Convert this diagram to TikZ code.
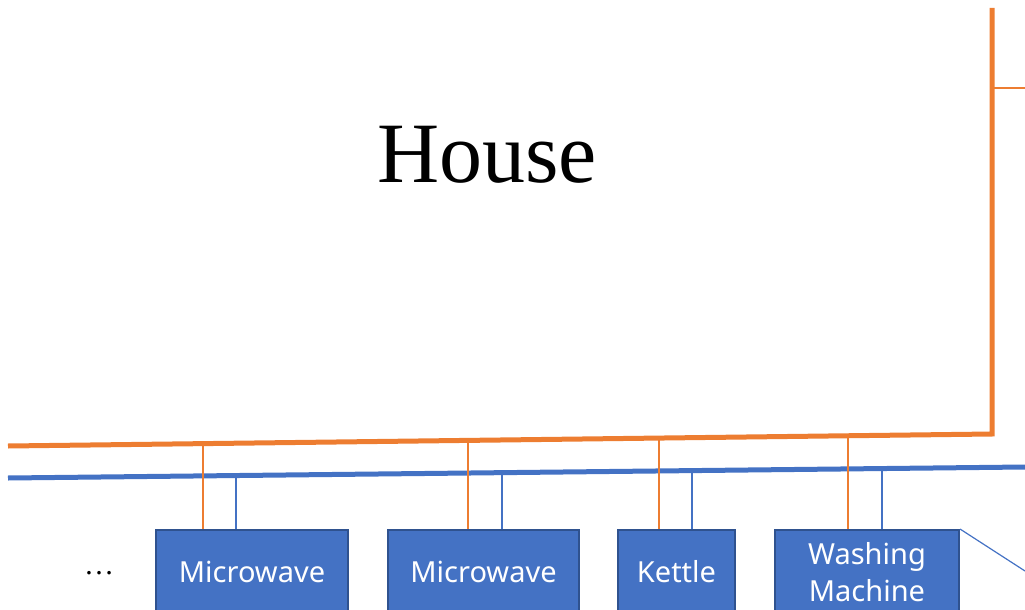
\documentclass[tikz,border=0pt]{standalone}
\usepackage{fontspec}
\setmainfont{Liberation Serif}
\newfontfamily\boxfont{Noto Sans}
\definecolor{orng}{HTML}{ED7D31}
\definecolor{blu}{HTML}{4472C4}
\definecolor{bluedge}{HTML}{2F528F}
\begin{document}
\begin{tikzpicture}[x=1pt,y=-1pt,
  device/.style={draw=bluedge, line width=2pt, fill=blu, text=white, anchor=north west,
    minimum height=84pt, inner sep=0pt, font=\boxfont\fontsize{29}{37}\selectfont, align=center},
  mainor/.style={draw=orng, line width=5pt, line join=miter},
  mainbl/.style={draw=blu, line width=5pt},
  dropor/.style={draw=orng, line width=1.3pt},
  dropbl/.style={draw=blu, line width=1.3pt}]
\useasboundingbox (0,0) rectangle (1025,610);
\clip (0,0) rectangle (1025,610);
% House label
\node (house) at (487,155) {\fontsize{86}{90}\selectfont House};
% main lines
\coordinate (oL) at (8,446);
\coordinate (oC) at (992,434);
\coordinate (oT) at (992,8);
\coordinate (oB) at (992,88);
\coordinate (oR) at (1025,88);
\coordinate (bL) at (8,478);
\coordinate (bR) at (1025,467);
\draw[mainor] (oL) -- (oC) -- (oT);
\draw[draw=orng, line width=2.5pt] (oB) -- (oR);
\draw[mainbl] (bL) -- (bR);
% devices
\node[device, minimum width=192pt] (m1) at (155,529) {Microwave};
\node[device, minimum width=191pt] (m2) at (387,529) {Microwave};
\node[device, minimum width=117pt] (k) at (617,529) {Kettle};
\node[device, minimum width=184pt] (w) at (774,529) {Washing\\Machine};
\node (dots) at (99,573) {\fontsize{30}{32}\selectfont\ldots};
% tap points
\coordinate (o1) at (203,443.6);
\coordinate (o2) at (468,440.4);
\coordinate (o3) at (659,438.1);
\coordinate (o4) at (848,435.8);
\coordinate (b1) at (236,475.5);
\coordinate (b2) at (502,472.7);
\coordinate (b3) at (692,470.6);
\coordinate (b4) at (882,468.5);
\draw[dropor] (o1) -- (o1 |- m1.north);
\draw[dropor] (o2) -- (o2 |- m2.north);
\draw[dropor] (o3) -- (o3 |- k.north);
\draw[dropor] (o4) -- (o4 |- w.north);
\draw[dropbl] (b1) -- (b1 |- m1.north);
\draw[dropbl] (b2) -- (b2 |- m2.north);
\draw[dropbl] (b3) -- (b3 |- k.north);
\draw[dropbl] (b4) -- (b4 |- w.north);
\coordinate (diagEnd) at (1025,571);
\draw[draw=blu, line width=1.2pt] (w.north east) -- (diagEnd);
\end{tikzpicture}
\end{document}
